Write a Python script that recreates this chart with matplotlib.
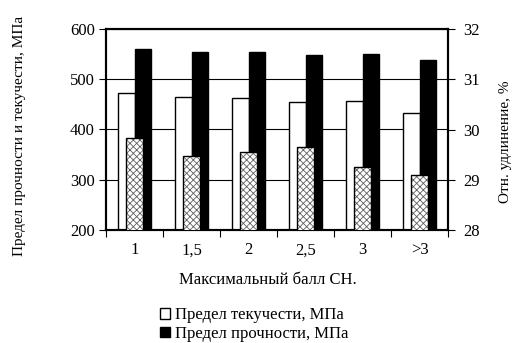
import matplotlib.pyplot as plt
import numpy as np
from matplotlib.patches import Patch

# values
categories = ["1", "1,5", "2", "2,5", "3", ">3"]
yield_mpa = [472, 465, 462, 455, 456, 432]
strength_mpa = [560, 555, 555, 549, 550, 539]
elongation_pct = [29.84, 29.47, 29.55, 29.65, 29.25, 29.10]

plt.rcParams["font.family"] = ["Liberation Serif", "DejaVu Serif"]
plt.rcParams["font.size"] = 12
plt.rcParams["hatch.linewidth"] = 0.6

W, H = 512, 343
fig = plt.figure(figsize=(W / 100, H / 100), dpi=100)
ax = fig.add_axes([106 / W, (H - 230) / H, 342 / W, 201 / H])

x = np.arange(len(categories))
bw = 0.29

ax.bar(x - bw / 2, yield_mpa, width=bw, color="white", edgecolor="black", linewidth=1.0, zorder=2)
ax.bar(x + bw / 2, strength_mpa, width=bw, color="black", edgecolor="black", linewidth=1.0, zorder=2)
ax.set_ylim(200, 600)
ax.set_yticks([200, 300, 400, 500, 600])
ax.set_xlim(-0.5, len(categories) - 0.5)
ax.yaxis.grid(True, color="black", linewidth=0.8)
ax.set_axisbelow(True)

# tick marks at category boundaries, labels at centers
ax.set_xticks(np.arange(-0.5, len(categories), 1.0))
ax.set_xticklabels([])
ax.set_xticks(x, minor=True)
ax.set_xticklabels(categories, minor=True)
ax.tick_params(axis="x", which="major", direction="out", length=5, width=0.8)
ax.tick_params(axis="x", which="minor", length=0, pad=9)
ax.tick_params(axis="y", direction="out", length=5, width=0.8, pad=3)

ax2 = ax.twinx()
ax2.bar(x, elongation_pct, width=bw, color="white", edgecolor="#606060", hatch="xxxxx", linewidth=0, zorder=3)
ax2.bar(x, elongation_pct, width=bw, fill=False, edgecolor="black", linewidth=1.0, zorder=4)
ax2.set_ylim(28, 32)
ax2.set_yticks([28, 29, 30, 31, 32])
ax2.tick_params(axis="y", direction="out", length=5, width=0.8, pad=6)

for a in (ax, ax2):
    for s in a.spines.values():
        s.set_linewidth(1.5)
        s.set_color("black")

fig.text(268 / W, 1 - 280 / H, "Максимальный балл СН.", ha="center", va="center", fontsize=12)
fig.text(20 / W, 1 - 136 / H, "Предел прочности и текучести, МПа", rotation=90,
         ha="center", va="center", fontsize=11)
fig.text(506 / W, 1 - 142 / H, "Отн. удлинение, %", rotation=90,
         ha="center", va="center", fontsize=11)

handles = [Patch(facecolor="white", edgecolor="black", linewidth=1.0),
           Patch(facecolor="black", edgecolor="black", linewidth=1.0)]
fig.legend(handles, ["Предел текучести, МПа", "Предел прочности, МПа"],
           loc="upper left", bbox_to_anchor=(152 / W, 1 - 299 / H), frameon=False,
           handlelength=0.6, handleheight=0.6, handletextpad=0.3, labelspacing=0.15,
           borderpad=0, fontsize=12)

fig.savefig("out.png", dpi=100)
